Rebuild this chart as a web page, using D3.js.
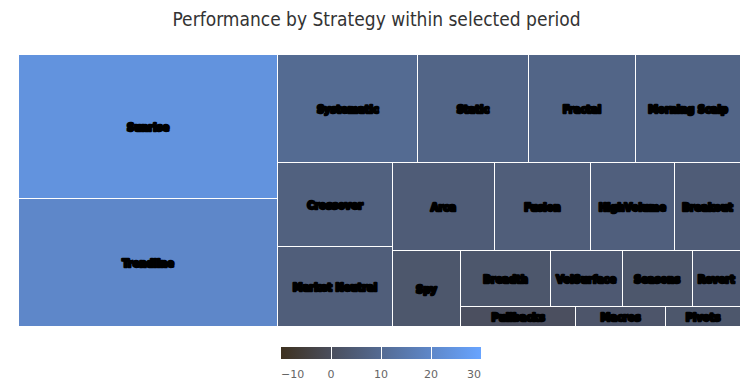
<!DOCTYPE html>
<html>
<head>
<meta charset="utf-8">
<script src="https://cdn.jsdelivr.net/npm/d3@7/dist/d3.min.js"></script>
<style>
  html, body { margin: 0; padding: 0; background: #fff; }
  svg { display: block; }
</style>
</head>
<body>
<svg id="chart" width="753" height="391"></svg>
<script>
// ---- data ----
const strategies = ["Sunrise", "Trendline", "Systematic", "Static", "Fractal", "Morning Scalp",
  "Crossover", "Market Neutral", "Arca", "Fusion", "HighVolume", "Breakout",
  "Spy", "Breadth", "VolSurface", "Seasons", "Revert", "Pullbacks", "Macros", "Pivots"];
const sizes = [373, 331, 151, 119, 116, 113, 96, 91, 90, 84, 74, 58, 52, 50, 40, 39, 27, 23, 18, 15];
const performance = [24, 20, 10, 8, 8, 8, 6.5, 5.5, 5, 5.5, 6, 5, 3, 3, 4, 3, 4, 0.5, 2.5, 3];
const legendTicks = [-10, 0, 10, 20, 30];
const colorDomain = [-10, 0, 30];
const colorRange = ["#3e3120", "#4a4e5c", "#68a4ff"];

const titleText = "Performance by Strategy within selected period";

const svg = d3.select("#chart");
const W = 753, H = 391;
const plot = { x: 18, y: 55, w: 722, h: 272 };

const color = d3.scaleLinear().domain(colorDomain).range(colorRange).interpolate(d3.interpolateRgb);

// Highcharts-like squarified tiling (alternating direction, low aspect ratio)
function squarifiedAlt(parent, x0, y0, x1, y1) {
  const kids = parent.children;
  const PW = x1 - x0, PH = y1 - y0, total = parent.value;
  const ar = (a, b) => Math.max(a / b, b / a);
  let dir = 0;
  let gW = PW, gH = PH, px = x0, py = y0;
  let elArr = [], elNodes = [], tot = 0, nW = 0, lW = 0, nH = 0, lH = 0, lR = NaN, nR = NaN;
  function add(area, node) {
    const last = elArr[elArr.length - 1];
    tot += area;
    if (dir === 0) {
      lW = nW; lR = ar(lW, last / lW);
      nW = tot / gH; nR = ar(nW, last / nW);
    } else {
      lH = nH; lR = ar(last / lH, lH);
      nH = tot / gW; nR = ar(last / nH, nH);
    }
    elArr.push(area); elNodes.push(node);
  }
  function calc(isLast) {
    let w = lW, h = lH, keepA, keepN;
    if (isLast) { w = nW; h = nH; }
    else { keepA = elArr[elArr.length - 1]; keepN = elNodes[elNodes.length - 1]; }
    const end = elArr.length - 1;
    elArr.forEach((p, i) => {
      if (isLast || i < end) {
        let cw, ch;
        if (dir === 0) { cw = w; ch = p / cw; } else { ch = h; cw = p / ch; }
        const n = elNodes[i];
        n.x0 = px; n.y0 = py; n.x1 = px + cw; n.y1 = py + ch;
        if (dir === 0) py += ch; else px += cw;
      }
    });
    nW = 0; lW = 0; elArr = []; elNodes = []; tot = 0;
    if (dir === 0) gW -= w; else gH -= h;
    px = x0 + (PW - gW); py = y0 + (PH - gH);
    dir = 1 - dir;
    if (!isLast) add(keepA, keepN);
  }
  kids.forEach((c, i) => {
    const area = PW * PH * c.value / total;
    add(area, c);
    if (nR > lR) calc(false);
    if (i === kids.length - 1) calc(true);
  });
}

const leaves = strategies.map((name, i) => ({ name, size: sizes[i], perf: performance[i] }));
const root = d3.hierarchy({ children: leaves })
  .sum(d => d.size || 0)
  .sort((a, b) => b.value - a.value);

d3.treemap().size([plot.w, plot.h]).tile(squarifiedAlt).round(false)(root);

// title
svg.append("text")
  .attr("x", W / 2).attr("y", 26)
  .attr("text-anchor", "middle")
  .style("font-family", "'DejaVu Sans Condensed', 'DejaVu Sans', sans-serif")
  .style("font-size", "19px")
  .style("fill", "#333333")
  .text(titleText);

const g = svg.append("g").attr("transform", `translate(${plot.x},${plot.y})`);
const cells = g.selectAll("g.cell").data(root.leaves()).join("g").attr("class", "cell");

cells.append("rect")
  .attr("x", d => Math.round(d.x0) + 0.5)
  .attr("y", d => Math.round(d.y0) - 0.5)
  .attr("width", d => Math.round(d.x1) - Math.round(d.x0))
  .attr("height", d => Math.round(d.y1) - Math.round(d.y0))
  .attr("fill", d => color(d.data.perf))
  .attr("stroke", "#ffffff")
  .attr("stroke-width", 1);

cells.append("text")
  .attr("x", d => (d.x0 + d.x1) / 2 + 0.5)
  .attr("y", d => (d.y0 + d.y1) / 2 + 4)
  .attr("text-anchor", "middle")
  .style("font-family", "'DejaVu Sans Condensed', 'DejaVu Sans', sans-serif")
  .style("font-size", "11px")
  .style("font-weight", "bold")
  .style("fill", "#000")
  .style("stroke", "#000")
  .style("stroke-width", "2.5px")
  .style("stroke-linejoin", "round")
  .text(d => d.data.name);

// legend (color axis)
const leg = { x: 281, y: 347, w: 200, h: 12 };
const lx = d3.scaleLinear().domain([legendTicks[0], legendTicks[legendTicks.length - 1]]).range([leg.x, leg.x + leg.w]);
const defs = svg.append("defs");
const grad = defs.append("linearGradient").attr("id", "legGrad").attr("x1", "0%").attr("x2", "100%").attr("y1", "0%").attr("y2", "0%");
colorDomain.forEach((v, i) => {
  grad.append("stop")
    .attr("offset", ((v - lx.domain()[0]) / (lx.domain()[1] - lx.domain()[0]) * 100) + "%")
    .attr("stop-color", colorRange[i]);
});
svg.append("rect").attr("x", leg.x).attr("y", leg.y).attr("width", leg.w).attr("height", leg.h)
  .attr("fill", "url(#legGrad)");

svg.selectAll("line.legtick").data(legendTicks.slice(1, -1)).join("line")
  .attr("class", "legtick")
  .attr("x1", d => Math.round(lx(d)) + 0.5).attr("x2", d => Math.round(lx(d)) + 0.5)
  .attr("y1", leg.y).attr("y2", leg.y + leg.h)
  .attr("stroke", "#ffffff").attr("stroke-width", 1);

svg.selectAll("text.leglabel").data(legendTicks).join("text")
  .attr("class", "leglabel")
  .attr("x", d => lx(d))
  .attr("y", 378)
  .attr("text-anchor", (d, i) => i === 0 ? "start" : (i === legendTicks.length - 1 ? "end" : "middle"))
  .style("font-family", "'DejaVu Sans', sans-serif")
  .style("font-size", "11px")
  .style("fill", "#666666")
  .text(d => d < 0 ? "\u2212" + Math.abs(d) : d);
</script>
</body>
</html>
